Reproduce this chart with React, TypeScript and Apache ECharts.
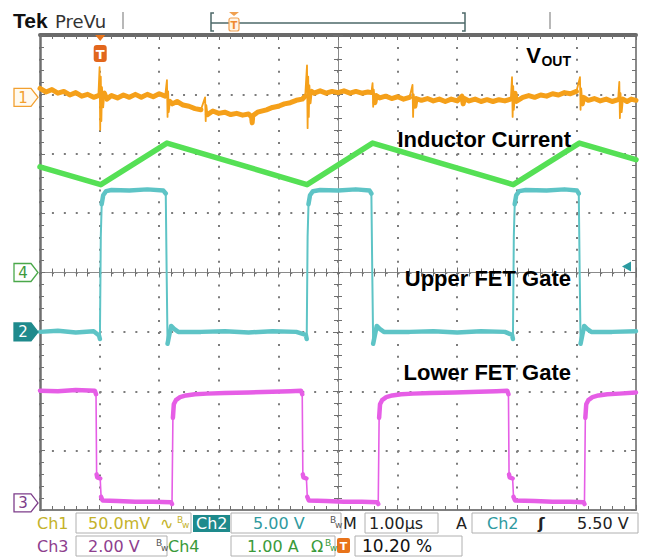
import React, { useEffect, useRef } from "react";
import * as echarts from "echarts";

// Horizontal: time in divisions (1.00 µs/div), 0 = screen centre.
// Vertical: screen divisions, 0 = screen centre.
const TIME_MIN = -5;
const TIME_MAX = 5;
const DIV_MIN = -4;
const DIV_MAX = 4;

// Ch1 – VOUT (50 mV/div, AC)
const vout: number[][] = [
  [-5.0, 3.1], [-4.9, 3.04], [-4.8, 3.08], [-4.7, 3.02], [-4.6, 3.05], [-4.5, 2.99], [-4.4, 3.03], [-4.3, 2.97],
  [-4.2, 3.0], [-4.1, 2.95], [-4.02, 2.98],
  [-4.0, 3.46], [-3.99, 2.4], [-3.98, 3.3], [-3.97, 2.55], [-3.96, 3.12], [-3.94, 2.78], [-3.92, 3.02], [-3.88, 2.92],
  [-3.8, 2.98], [-3.7, 2.94], [-3.6, 2.99], [-3.5, 2.95], [-3.4, 3.0], [-3.3, 2.95], [-3.2, 3.0], [-3.1, 2.96],
  [-3.0, 3.01], [-2.9, 2.97],
  [-2.87, 3.24], [-2.86, 2.62], [-2.85, 3.05], [-2.84, 2.7], [-2.82, 2.88],
  [-2.78, 2.84], [-2.7, 2.88], [-2.6, 2.82], [-2.5, 2.8], [-2.4, 2.76], [-2.3, 2.74],
  [-2.23, 2.95], [-2.22, 2.55], [-2.21, 2.82], [-2.19, 2.66],
  [-2.1, 2.72], [-2.0, 2.68], [-1.9, 2.7], [-1.8, 2.66], [-1.7, 2.68], [-1.6, 2.65], [-1.5, 2.67],
  [-1.45, 2.62], [-1.44, 2.52], [-1.43, 2.64],
  [-1.35, 2.7], [-1.2, 2.74], [-1.1, 2.78], [-1.0, 2.8], [-0.9, 2.84], [-0.8, 2.86], [-0.7, 2.9], [-0.6, 2.92], [-0.55, 2.97],
  [-0.52, 3.49], [-0.51, 2.43], [-0.5, 3.3], [-0.49, 2.62], [-0.48, 3.15], [-0.46, 2.85], [-0.44, 3.05],
  [-0.4, 3.02], [-0.3, 3.06], [-0.2, 3.02], [-0.1, 3.05], [0.0, 3.03], [0.1, 3.06], [0.2, 3.02], [0.3, 3.05],
  [0.4, 3.02], [0.5, 3.04], [0.56, 3.03],
  [0.58, 3.19], [0.59, 2.79], [0.6, 3.08], [0.62, 2.86], [0.64, 2.98],
  [0.7, 2.94], [0.8, 2.97], [0.9, 2.93], [1.0, 2.96], [1.1, 2.92], [1.2, 2.95],
  [1.25, 3.16], [1.26, 2.62], [1.27, 3.0], [1.29, 2.8], [1.31, 2.93],
  [1.4, 2.9], [1.5, 2.93], [1.6, 2.89], [1.7, 2.92], [1.8, 2.88], [1.9, 2.92], [2.0, 2.89],
  [2.08, 2.97], [2.1, 2.84], [2.12, 2.93],
  [2.2, 2.89], [2.3, 2.92], [2.4, 2.88], [2.5, 2.91], [2.6, 2.88], [2.7, 2.91], [2.8, 2.89], [2.9, 2.92],
  [2.92, 3.29], [2.93, 2.62], [2.94, 3.14], [2.95, 2.74], [2.97, 3.02], [2.99, 2.88],
  [3.1, 2.95], [3.2, 2.98], [3.3, 2.95], [3.4, 2.99], [3.5, 2.97], [3.6, 3.01], [3.7, 2.99], [3.8, 3.03],
  [3.9, 3.01], [4.0, 3.05],
  [4.06, 3.29], [4.07, 2.74], [4.08, 3.1], [4.1, 2.84], [4.12, 2.95],
  [4.2, 2.9], [4.3, 2.93], [4.4, 2.89], [4.5, 2.92], [4.6, 2.88], [4.7, 2.91],
  [4.72, 3.21], [4.73, 2.6], [4.74, 3.02], [4.76, 2.7], [4.78, 2.92],
  [4.85, 2.88], [4.92, 2.92], [5.0, 2.9],
];

// Ch4 – inductor current (1.00 A/div)
const inductor: number[][] = [
  [-5.0, 1.78], [-3.98, 1.48], [-2.87, 2.18], [-0.52, 1.48], [0.58, 2.18], [2.94, 1.48], [4.05, 2.18], [5.0, 1.9],
];

// Ch2 – upper FET gate (5.00 V/div)
const upperGate: number[][] = [
  [-5.0, -1.0], [-4.7, -0.98], [-4.4, -1.01], [-4.1, -0.99], [-4.01, -1.06], [-3.995, -1.12],
  [-3.98, 0.6], [-3.965, 1.15], [-3.94, 1.3], [-3.89, 1.37], [-3.8, 1.39], [-3.5, 1.38], [-3.2, 1.4], [-2.93, 1.38], [-2.89, 1.33],
  [-2.875, 0.0], [-2.86, -1.2], [-2.83, -1.05], [-2.8, -0.9], [-2.75, -0.95], [-2.68, -1.0], [-2.3, -1.0], [-1.9, -0.99],
  [-1.5, -1.01], [-1.1, -0.99], [-0.7, -1.0], [-0.54, -1.05], [-0.525, -1.12],
  [-0.51, 0.6], [-0.495, 1.15], [-0.47, 1.3], [-0.42, 1.37], [-0.3, 1.39], [0.0, 1.38], [0.3, 1.4], [0.53, 1.38], [0.56, 1.33],
  [0.575, 0.0], [0.59, -1.2], [0.62, -1.05], [0.65, -0.9], [0.7, -0.95], [0.77, -1.0], [1.2, -1.0], [1.6, -0.99],
  [2.0, -1.01], [2.4, -0.99], [2.8, -1.0], [2.92, -1.05], [2.935, -1.12],
  [2.95, 0.6], [2.965, 1.15], [2.99, 1.3], [3.04, 1.37], [3.15, 1.39], [3.5, 1.38], [3.8, 1.4], [4.01, 1.38], [4.04, 1.33],
  [4.055, 0.0], [4.07, -1.2], [4.1, -1.05], [4.13, -0.9], [4.18, -0.95], [4.25, -1.0], [4.6, -1.0], [5.0, -0.99],
];

// Ch3 – lower FET gate (2.00 V/div)
const lowerGate: number[][] = [
  [-5.0, -1.99], [-4.7, -2.0], [-4.4, -1.98], [-4.08, -1.99],
  [-4.06, -2.05], [-4.05, -3.4], [-4.04, -3.45], [-3.99, -3.47], [-3.975, -3.78], [-3.95, -3.84], [-3.7, -3.85],
  [-3.4, -3.86], [-3.1, -3.86], [-2.8, -3.87], [-2.785, -3.9],
  [-2.77, -2.45], [-2.755, -2.22], [-2.72, -2.15], [-2.65, -2.1], [-2.55, -2.07], [-2.4, -2.05], [-2.2, -2.04],
  [-1.9, -2.03], [-1.5, -2.02], [-1.1, -2.01], [-0.8, -2.0], [-0.62, -1.99],
  [-0.6, -2.05], [-0.59, -3.4], [-0.58, -3.45], [-0.53, -3.47], [-0.515, -3.78], [-0.49, -3.84], [-0.2, -3.85],
  [0.1, -3.86], [0.4, -3.86], [0.66, -3.87], [0.675, -3.9],
  [0.69, -2.45], [0.705, -2.22], [0.74, -2.15], [0.81, -2.1], [0.91, -2.07], [1.06, -2.05], [1.26, -2.04],
  [1.56, -2.03], [1.96, -2.02], [2.36, -2.01], [2.66, -2.0], [2.84, -1.99],
  [2.86, -2.05], [2.87, -3.4], [2.88, -3.45], [2.93, -3.47], [2.945, -3.78], [2.97, -3.84], [3.3, -3.85],
  [3.6, -3.86], [3.9, -3.86], [4.12, -3.87], [4.135, -3.9],
  [4.15, -2.45], [4.165, -2.22], [4.2, -2.15], [4.27, -2.1], [4.37, -2.07], [4.52, -2.05], [4.72, -2.04], [5.0, -2.02],
];

// Channel ground markers (divisions) and trigger
const channelMarkers = [
  { label: "1", level: 2.95, color: "#f2a030", fill: "#fffaf0", text: "#f2a030" },
  { label: "4", level: 0, color: "#4aa84a", fill: "#ffffff", text: "#3c9a3c" },
  { label: "2", level: -1.0, color: "#1f8a8c", fill: "#1f8a8c", text: "#ffffff" },
  { label: "3", level: -3.88, color: "#7d3d8a", fill: "#ffffff", text: "#7d3d8a" },
];
const TRIGGER_TIME = -3.99;
const TRIGGER_LEVEL = 0.1;

const traceLabels = ["Inductor Current", "Upper FET Gate", "Lower FET Gate"];

const C_ORANGE = "#f5a01a";
const C_GREEN = "#55e055";
const C_CYAN = "#5ec4c6";
const C_MAGENTA = "#e65ee6";

function band(pts: number[][], maxStep: number) {
  const out: (number | null)[][] = [];
  pts.forEach((p, i) => {
    if (i > 0 && Math.abs(p[1] - pts[i - 1][1]) > maxStep) out.push([p[0], null]);
    out.push(p);
  });
  return out;
}

const TICK = "#707070";

function xAxisCfg(extra: any) {
  return {
    type: "value",
    min: TIME_MIN,
    max: TIME_MAX,
    interval: 1,
    axisLabel: { show: false },
    splitLine: { show: false },
    ...extra,
  };
}
function yAxisCfg(extra: any) {
  return {
    type: "value",
    min: DIV_MIN,
    max: DIV_MAX,
    interval: 1,
    axisLabel: { show: false },
    splitLine: { show: false },
    ...extra,
  };
}

function buildOption(): any {
  const ticksIn = {
    axisTick: { show: true, inside: true, length: 5, lineStyle: { color: TICK, width: 1 } },
    minorTick: { show: true, splitNumber: 5, length: 4, lineStyle: { color: TICK, width: 1 } },
  };
  const line = (data: any, color: string, width: number, z: number) => ({
    type: "line",
    data,
    showSymbol: false,
    symbol: "none",
    silent: true,
    connectNulls: false,
    z,
    lineStyle: { color, width, join: "round", cap: "round" },
    xAxisIndex: 0,
    yAxisIndex: 0,
  });
  return {
    animation: false,
    backgroundColor: "#ffffff",
    grid: { left: 40, right: 9, top: 35, bottom: 49, containLabel: false },
    xAxis: [
      xAxisCfg({
        position: "bottom",
        axisLine: { show: true, onZero: false, lineStyle: { color: "#808080", width: 2 } },
        ...ticksIn,
        splitLine: { show: true, lineStyle: { color: "#7c7c7c", width: 2, type: [2, 9.88] } },
      }),
      xAxisCfg({
        position: "top",
        axisLine: { show: true, onZero: false, lineStyle: { color: "#6a6a6a", width: 4 } },
        ...ticksIn,
      }),
      xAxisCfg({
        position: "bottom",
        axisLine: { show: true, onZero: true, onZeroAxisIndex: 0, lineStyle: { color: "#8a8a8a", width: 1 } },
        ...ticksIn,
      }),
      xAxisCfg({
        position: "top",
        axisLine: { show: true, onZero: true, onZeroAxisIndex: 0, lineStyle: { color: "#8a8a8a", width: 1 } },
        ...ticksIn,
      }),
    ],
    yAxis: [
      yAxisCfg({
        position: "left",
        axisLine: { show: true, onZero: false, lineStyle: { color: "#6f6f6f", width: 2.5 } },
        ...ticksIn,
        splitLine: { show: true, lineStyle: { color: "#7c7c7c", width: 2, type: [2, 9.92] } },
      }),
      yAxisCfg({
        position: "right",
        axisLine: { show: true, onZero: false, lineStyle: { color: "#8a8a8a", width: 2 } },
        ...ticksIn,
      }),
      yAxisCfg({
        position: "left",
        axisLine: { show: true, onZero: true, onZeroAxisIndex: 0, lineStyle: { color: "#8a8a8a", width: 1 } },
        ...ticksIn,
      }),
      yAxisCfg({
        position: "right",
        axisLine: { show: true, onZero: true, onZeroAxisIndex: 0, lineStyle: { color: "#8a8a8a", width: 1 } },
        ...ticksIn,
      }),
    ],
    series: [
      line(band(lowerGate, 0.3), C_MAGENTA, 4.5, 3),
      line(lowerGate, C_MAGENTA, 1.6, 3),
      line(band(upperGate, 0.3), C_CYAN, 4.5, 4),
      line(upperGate, C_CYAN, 2, 4),
      line(inductor, C_GREEN, 5.5, 5),
      line(band(vout, 0.15), C_ORANGE, 5, 6),
      line(vout, C_ORANGE, 1.8, 6),
    ],
  };
}

function txt(x: number, y: number, text: string, fill: string, font: string, align = "left") {
  return {
    type: "text",
    z: 100,
    silent: true,
    style: { x, y, text, fill, font, align, verticalAlign: "middle" },
  };
}
function rect(x: number, y: number, w: number, h: number, style: any, r = 0) {
  return { type: "rect", z: 99, silent: true, shape: { x, y, width: w, height: h, r }, style };
}
function seg(x1: number, y1: number, x2: number, y2: number, stroke: string, lineWidth = 1) {
  return { type: "line", z: 99, silent: true, shape: { x1, y1, x2, y2 }, style: { stroke, lineWidth } };
}

function buildGraphic(chart: any) {
  const px = (x: number, y: number) => chart.convertToPixel({ gridIndex: 0 }, [x, y]);
  const g: any[] = [];
  const LBL = 'bold 22px "Liberation Sans", Arial, sans-serif';
  const RD = '16px "DejaVu Sans", sans-serif';
  const RDs = '9px "DejaVu Sans", sans-serif';

  // Header
  g.push(txt(13, 20.5, "Tek", "#111", 'bold 21px "Liberation Sans", Arial, sans-serif'));
  g.push(txt(55, 21.5, "PreVu", "#333", '18px "DejaVu Sans", sans-serif'));
  g.push(seg(123, 12, 123, 29, "#a0a0a0", 1.5));
  g.push({
    type: "polyline", z: 99, silent: true,
    shape: { points: [[214, 13], [211, 13], [211, 31], [214, 31]] },
    style: { stroke: "#4c6868", lineWidth: 1.5, fill: "none" },
  });
  g.push(seg(211, 23, 465, 23, "#4c6868", 1.5));
  g.push({
    type: "polyline", z: 99, silent: true,
    shape: { points: [[462, 13], [465, 13], [465, 31], [462, 31]] },
    style: { stroke: "#4c6868", lineWidth: 1.5, fill: "none" },
  });
  g.push(seg(550, 12, 550, 29, "#a0a0a0", 1.5));
  g.push({
    type: "polygon", z: 100, silent: true,
    shape: { points: [[229, 12], [239, 12], [234, 16]] },
    style: { fill: "#f0a050" },
  });
  g.push(rect(229, 18, 10, 13, { fill: "#fff4e6", stroke: "#f0a050", lineWidth: 1.2 }, 2));
  g.push(txt(234, 25, "T", "#f08a30", 'bold 10px "DejaVu Sans", sans-serif', "center"));

  // Trigger position marker
  const tx = px(TRIGGER_TIME, DIV_MAX)[0];
  g.push({
    type: "polygon", z: 100, silent: true,
    shape: { points: [[tx - 5, 35], [tx + 5, 35], [tx, 41]] },
    style: { fill: "#e8731a" },
  });
  g.push(rect(tx - 6.5, 45, 13, 17, { fill: "#e2661c" }, 3));
  g.push(txt(tx, 54, "T", "#ffffff", 'bold 13px "DejaVu Sans", sans-serif', "center"));

  // Trigger level arrow (right)
  const ty = px(TIME_MAX, TRIGGER_LEVEL)[1];
  g.push({
    type: "polygon", z: 100, silent: true,
    shape: { points: [[622, ty], [631, ty - 5], [631, ty + 5]] },
    style: { fill: "#2a9aa0" },
  });

  // Channel ground markers
  channelMarkers.forEach((m) => {
    const y = px(TIME_MIN, m.level)[1];
    g.push({
      type: "polygon", z: 100, silent: true,
      shape: { points: [[14, y - 9], [31, y - 9], [38, y], [31, y + 9], [14, y + 9]] },
      style: { fill: m.fill, stroke: m.color, lineWidth: 1.3 },
    });
    g.push(txt(23, y + 0.5, m.label, m.text, '15px "DejaVu Sans", sans-serif', "center"));
  });

  // Trace labels
  g.push(txt(541, 55.5, "V", "#000", LBL, "right"));
  g.push(txt(571, 60.5, "OUT", "#000", 'bold 14px "Liberation Sans", Arial, sans-serif', "right"));
  const labelY = [139.5, 278, 372];
  traceLabels.forEach((t, i) => g.push(txt(571, labelY[i], t, "#000", LBL, "right")));

  // Readout panel
  const r1 = 523;
  const r2 = 546;
  const OL = "#c4b22a";
  const TL = "#2f9aa0";
  const PU = "#8e3e8e";
  const GR = "#3a9a3a";
  const BX = { fill: "none", stroke: "#b0b0b0", lineWidth: 1 };
  const bw = (x: number, y: number, c: string) => {
    g.push(txt(x, y - 3, "B", c, RDs));
    g.push(txt(x + 5, y + 2, "w", c, RDs));
  };
  g.push(txt(37, r1, "Ch1", OL, RD));
  g.push(rect(76, 513, 115, 20, BX));
  g.push(txt(88, r1, "50.0mV", OL, RD));
  g.push(txt(160, r1, "∿", OL, RD));
  bw(177, r1, OL);
  g.push(rect(193, 515, 37, 17, { fill: "#1e8a8c" }));
  g.push(txt(196, r1, "Ch2", "#ffffff", RD));
  g.push(rect(231, 513, 110, 20, BX));
  g.push(txt(253, r1, "5.00 V", TL, RD));
  bw(330, r1, "#555");
  g.push(txt(343, r1, "M", "#222", RD));
  g.push(rect(365, 513, 73, 20, BX));
  g.push(txt(369, r1, "1.00µs", "#222", RD));
  g.push(txt(456, r1, "A", "#222", RD));
  g.push(rect(472, 513, 166, 20, BX));
  g.push(txt(487, r1, "Ch2", TL, RD));
  g.push(txt(538, r1, "ʃ", "#222", 'bold 16px "DejaVu Sans", sans-serif'));
  g.push(txt(577, r1, "5.50 V", "#222", RD));

  g.push(txt(37, r2, "Ch3", PU, RD));
  g.push(rect(76, 536, 91, 20, BX));
  g.push(txt(88, r2, "2.00 V", PU, RD));
  bw(156, r2, "#555");
  g.push(txt(168, r2, "Ch4", GR, RD));
  g.push(rect(231, 536, 104, 20, BX));
  g.push(txt(247, r2, "1.00 A", GR, RD));
  g.push(txt(311, r2, "Ω", GR, RD));
  bw(325, r2, GR);
  g.push(rect(337, 538, 13, 15, { fill: "#e8731a" }, 2));
  g.push(txt(343.5, r2, "T", "#ffffff", 'bold 11px "DejaVu Sans", sans-serif', "center"));
  g.push(rect(355, 536, 107, 20, BX));
  g.push(txt(362, r2, "10.20 %", "#111", '17px "DejaVu Sans", sans-serif'));

  return g;
}

export default function App() {
  const ref = useRef<HTMLDivElement>(null);
  useEffect(() => {
    document.body.style.margin = "0";
    const chart = echarts.init(ref.current as HTMLDivElement, null, { renderer: "svg" });
    chart.setOption(buildOption());
    chart.setOption({ graphic: buildGraphic(chart) });
    return () => chart.dispose();
  }, []);
  return <div ref={ref} style={{ width: 645, height: 559 }} />;
}
